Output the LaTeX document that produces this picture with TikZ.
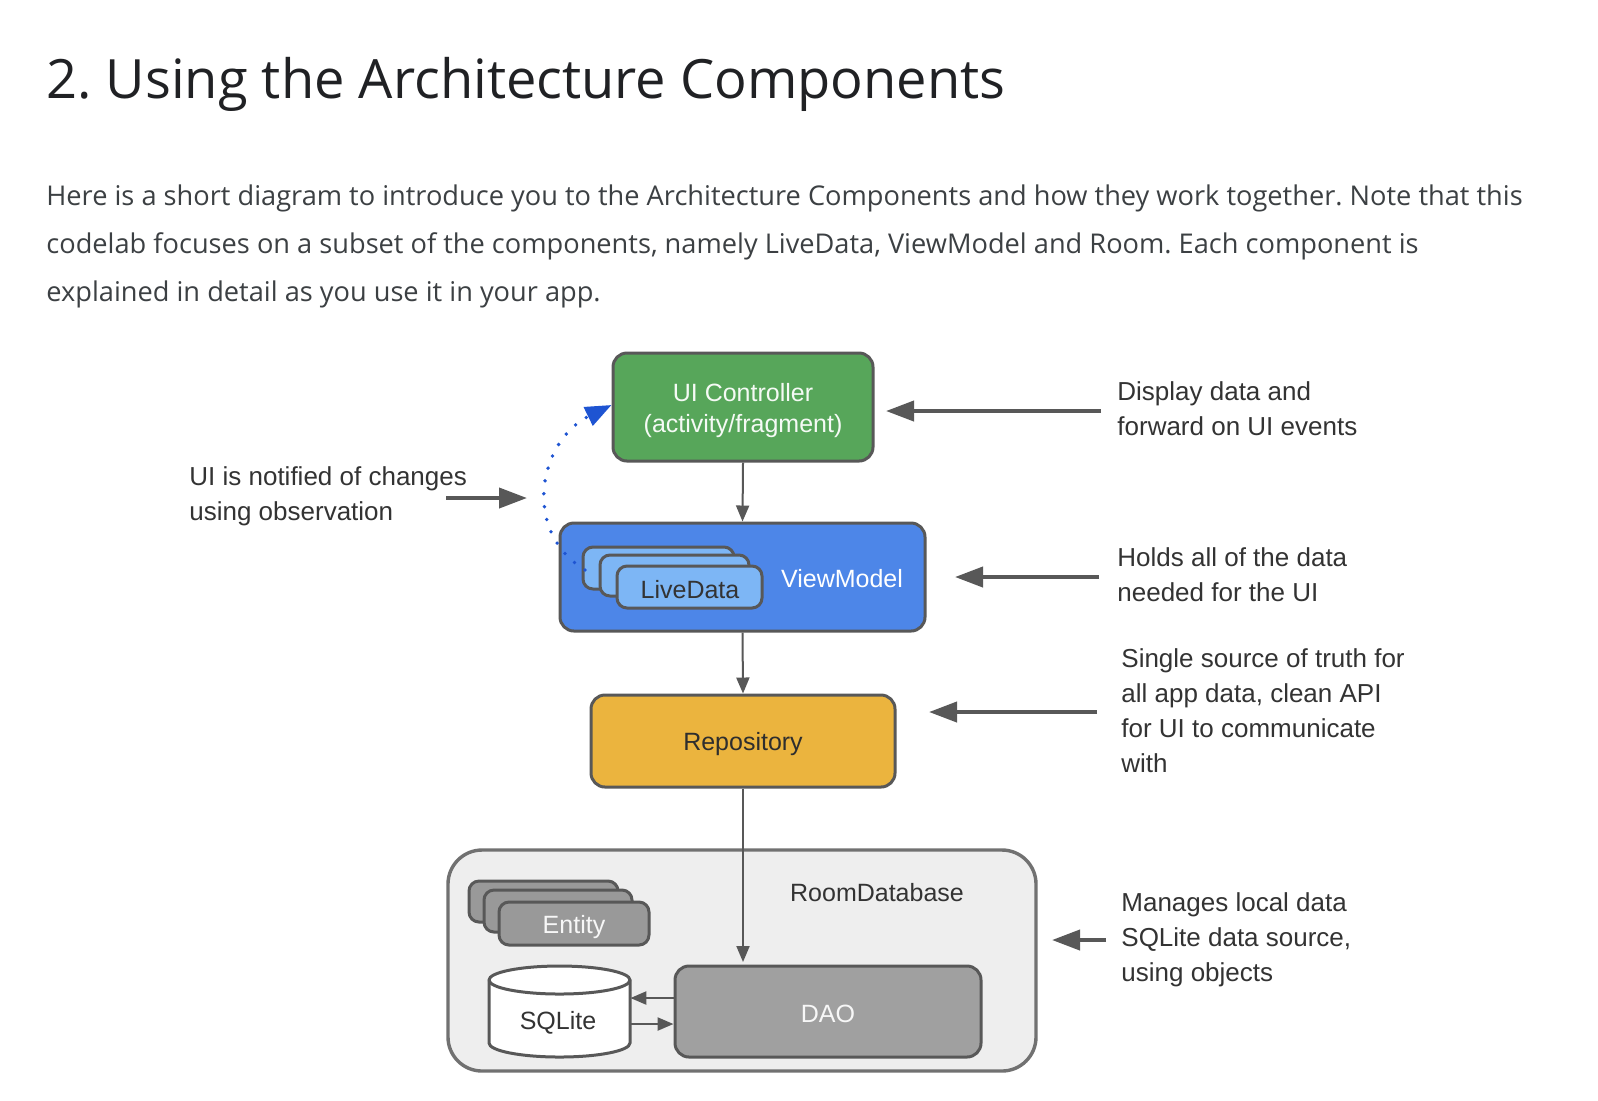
\documentclass[tikz,border=0pt]{standalone}
\usepackage{fontspec}
\setmainfont{Liberation Sans}
\newfontfamily\titlefont{Open Sans}
\newfontfamily\bodyfont{Open Sans}
\usetikzlibrary{arrows.meta}
\definecolor{border}{RGB}{88,88,88}
\definecolor{ctrlgreen}{RGB}{87,166,90}
\definecolor{vmblue}{RGB}{77,134,232}
\definecolor{ldblue}{RGB}{125,182,245}
\definecolor{repoyellow}{RGB}{235,180,62}
\definecolor{roomgray}{RGB}{238,238,238}
\definecolor{entgray}{RGB}{153,153,153}
\definecolor{daogray}{RGB}{160,160,160}
\definecolor{dotblue}{RGB}{30,84,210}
\definecolor{labeltext}{RGB}{51,51,51}
\definecolor{titletext}{RGB}{32,33,36}
\definecolor{bodytext}{RGB}{60,64,67}
\tikzset{
  box/.style={draw=border, line width=1.5pt, rounded corners=7pt, inner sep=0pt},
  lbl/.style={font=\fontsize{13pt}{17.6pt}\selectfont, text=labeltext, align=left, anchor=north west, inner sep=0pt},
  bigarrow/.style={draw=border, line width=2pt, -{Triangle[length=14pt,width=10pt]}},
  smallarrow/.style={draw=border, line width=1pt, -{Triangle[length=8pt,width=6.5pt]}},
  boxtext/.style={font=\fontsize{12.5pt}{15.5pt}\selectfont, align=center},
  bodyline/.style={anchor=base west, inner sep=0pt, text=bodytext, font=\bodyfont\fontsize{13.6pt}{16pt}\selectfont},
}
\begin{document}
\frenchspacing
\begin{tikzpicture}[x=0.5pt, y=-0.5pt]
\useasboundingbox[fill=white] (0,0) rectangle (1598,1100);

% heading and paragraph
\node[anchor=base west, inner sep=0pt, text=titletext, font=\titlefont\fontsize{27.1pt}{30pt}\selectfont] (title) at (46,98) {2. Using the Architecture Components};
\node[bodyline] (p1) at (46,205) {Here is a short diagram to introduce you to the Architecture Components and how they work together. Note that this};
\node[bodyline] (p2) at (46,253) {codelab focuses on a subset of the components, namely LiveData, ViewModel and Room. Each component is};
\node[bodyline] (p3) at (46,301) {explained in detail as you use it in your app.};

% UI controller
\node[box, fill=ctrlgreen, minimum width=130pt, minimum height=54pt] (ctrl) at (743,407) {};
\node[text=white!94!ctrlgreen, boxtext, anchor=center] (ctrltext) at (743,411) {UI Controller\\(activity/fragment)};

% ViewModel
\node[box, fill=vmblue, minimum width=182.5pt, minimum height=54pt] (vm) at (742.5,577) {};
\node[box, fill=ldblue, rounded corners=5pt, minimum width=75.5pt, minimum height=21pt] (ld3) at (658.5,568) {};
\node[box, fill=ldblue, rounded corners=5pt, minimum width=74.5pt, minimum height=20.5pt] (ld2) at (674.5,575.5) {};
\node[box, fill=ldblue, rounded corners=5pt, minimum width=72.5pt, minimum height=21pt] (ld1) at (689.5,587) {};
\node[text=labeltext, boxtext, anchor=center] (ldtext) at (690,590) {LiveData};
\node[text=white, boxtext, anchor=center] (vmtext) at (842,579) {ViewModel};

% Repository
\node[box, fill=repoyellow, minimum width=152pt, minimum height=46pt] (repo) at (743,741) {};
\node[text=labeltext!90!black, boxtext, anchor=center] (repotext) at (743,744) {Repository};

% Room database
\node[box, fill=roomgray, draw=border!85!white, line width=1.7pt, rounded corners=17pt, minimum width=294pt, minimum height=110.5pt] (room) at (742,960.5) {};
\node[text=labeltext, boxtext, anchor=center] (roomtext) at (877,893) {RoomDatabase};
\node[box, fill=entgray, rounded corners=5pt, minimum width=74.5pt, minimum height=20.5pt] (en3) at (543.5,901.5) {};
\node[box, fill=entgray, rounded corners=5pt, minimum width=74pt, minimum height=21pt] (en2) at (558,911) {};
\node[box, fill=entgray, rounded corners=5pt, minimum width=75pt, minimum height=21.5pt] (en1) at (574,923.5) {};
\node[text=white!92!entgray, boxtext, anchor=center] (entext) at (574,927) {Entity};

% SQLite cylinder
\node[inner sep=0pt, minimum width=70.5pt, minimum height=45.5pt] (sql) at (559.5,1011.5) {};
\draw[draw=border, line width=1.5pt, fill=white] (489,980) -- (489,1043) arc[start angle=180, end angle=360, x radius=35.25pt, y radius=7pt] -- (630,980) arc[start angle=0, end angle=180, x radius=35.25pt, y radius=7pt] -- cycle;
\draw[draw=border, line width=1.5pt] (489,980) arc[start angle=180, end angle=360, x radius=35.25pt, y radius=7pt];
\node[text=labeltext, boxtext, anchor=center] (sqltext) at (558,1023) {SQLite};

% DAO
\node[box, fill=daogray, minimum width=153pt, minimum height=45.5pt] (dao) at (828,1011.5) {};
\node[text=white!92!daogray, boxtext, anchor=center] (daotext) at (828,1014) {DAO};

% vertical connectors
\draw[smallarrow] (ctrl.south) -- (vm.north);
\draw[smallarrow] (vm.south) -- (repo.north);
\coordinate (daotop) at (743,962);
\draw[smallarrow] (repo.south) -- (daotop);
\draw[smallarrow, line width=1.2pt] (dao.west |- 0,998) -- (sql.east |- 0,998);
\draw[smallarrow, line width=1.2pt] (sql.east |- 0,1024) -- (dao.west |- 0,1024);

% right-hand labels and arrows
\node[lbl] (l1) at (1117,381) {Display data and\\forward on UI events};
\coordinate (a1s) at (1101,411);
\coordinate (a1e) at (886,411);
\draw[bigarrow] (a1s) -- (a1e);
\node[lbl] (l2) at (1117,547) {Holds all of the data\\needed for the UI};
\coordinate (a2s) at (1099,577);
\coordinate (a2e) at (955,577);
\draw[bigarrow] (a2s) -- (a2e);
\node[lbl] (l3) at (1121,648) {Single source of truth for\\all app data, clean API\\for UI to communicate\\with};
\coordinate (a3s) at (1097,712);
\coordinate (a3e) at (929,712);
\draw[bigarrow] (a3s) -- (a3e);
\node[lbl] (l4) at (1121,892) {Manages local data\\SQLite data source,\\using objects};
\coordinate (a4s) at (1106,940);
\coordinate (a4e) at (1052,940);
\draw[bigarrow] (a4s) -- (a4e);

% left label
\node[lbl] (l0) at (189,466) {UI is notified of changes\\using observation};
\coordinate (a0s) at (446,498);
\coordinate (a0e) at (527,498);
\draw[bigarrow] (a0s) -- (a0e);

% observation curve
\coordinate (obs) at (585,570);
\draw[dotblue, line width=1.9pt, line cap=round, dash pattern=on 0pt off 6.5pt, -{Triangle[length=13pt,width=10pt]}] (obs) .. controls (520,530) and (540,440) .. (ctrl.west |- 0,405);
\end{tikzpicture}
\end{document}
